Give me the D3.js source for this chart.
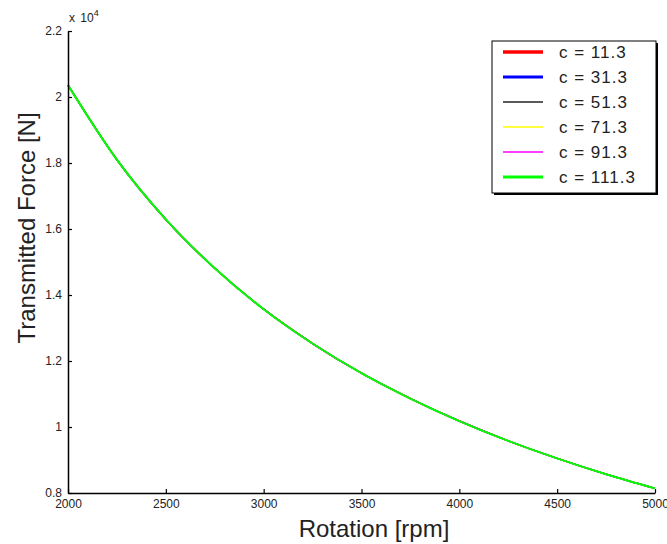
<!DOCTYPE html>
<html>
<head>
<meta charset="utf-8">
<script src="https://cdn.jsdelivr.net/npm/d3@7"></script>
<style>
  body { margin: 0; background: #fff; }
  svg { display: block; font-family: "Liberation Sans", Arial, sans-serif; }
</style>
</head>
<body>
<svg id="chart" width="667" height="544"></svg>
<script>
// rotation speed [rpm] and transmitted force [x 10^4 N]
const rotation = [2000, 2250, 2500, 2750, 3000, 3250, 3500, 3750, 4000, 4250, 4500, 4750, 5000]
const force = [2.036, 1.81, 1.629, 1.481, 1.357, 1.253, 1.163, 1.086, 1.018, 0.958, 0.905, 0.857, 0.814]

// damping coefficients (all curves coincide at this scale)
const dampings = ["c = 11.3", "c = 31.3", "c = 51.3", "c = 71.3", "c = 91.3", "c = 111.3"]
const colors = ["#ff0000", "#0000ff", "#222222", "#ffff00", "#ff00ff", "#00ff00"]
const widths = [3.5, 3, 1.5, 1.5, 1.5, 3]

const xTicks = [2000, 2500, 3000, 3500, 4000, 4500, 5000]
const yTicks = [0.8, 1, 1.2, 1.4, 1.6, 1.8, 2, 2.2]

var svg = d3.select("#chart")
svg.append("rect").attr("width", 667).attr("height", 544).attr("fill", "#fff")

const x = d3.scaleLinear().domain([2000, 5000]).range([68, 655])
const y = d3.scaleLinear().domain([0.8, 2.2]).range([493, 31])

// series, drawn so the last one ends up on top
const line = d3.line()
  .x((d, i) => x(rotation[i]))
  .y(d => y(d))
  .curve(d3.curveMonotoneX)

dampings.forEach(function (name, k) {
  svg.append("path")
    .datum(force)
    .attr("fill", "none")
    .attr("stroke", colors[k])
    .attr("stroke-width", k == dampings.length - 1 ? 2 : 1.5)
    .attr("d", line)
})

// axes
var xAxis = d3.axisBottom(x).tickValues(xTicks).tickFormat(d3.format("d"))
  .tickSizeInner(-4).tickSizeOuter(0).tickPadding(6)
var yAxis = d3.axisLeft(y).tickValues(yTicks).tickFormat(d => d3.format("~g")(d))
  .tickSizeInner(-4).tickSizeOuter(0).tickPadding(6)

var gx = svg.append("g").attr("transform", "translate(0," + 493 + ")").call(xAxis)
var gy = svg.append("g").attr("transform", "translate(" + 68 + ",0)").call(yAxis)

;[gx, gy].forEach(function (g) {
  g.select(".domain").attr("stroke", "#000").attr("stroke-width", 1.5)
  g.selectAll(".tick line").attr("stroke", "#000").attr("stroke-width", 1.2)
  g.selectAll(".tick text").attr("fill", "#222").style("font-size", "12px")
    .style("font-family", "'Liberation Sans', Arial, sans-serif")
})

// exponent marker
var expo = svg.append("text").attr("x", 69).attr("y", 22).attr("fill", "#222")
  .style("font-size", "12px")
expo.append("tspan").text("x ")
expo.append("tspan").attr("dx", 2).text("10")
expo.append("tspan").attr("dy", -6).style("font-size", "9px").text("4")

// axis titles
svg.append("text")
  .attr("x", 374).attr("y", 537)
  .attr("text-anchor", "middle")
  .attr("fill", "#222")
  .style("font-size", "24px")
  .text("Rotation [rpm]")

svg.append("text")
  .attr("transform", "translate(35,228) rotate(-90)")
  .attr("text-anchor", "middle")
  .attr("fill", "#222")
  .style("font-size", "24px")
  .text("Transmitted Force [N]")

// legend
var lg = svg.append("g")
lg.append("rect").attr("x", 494).attr("y", 43).attr("width", 164).attr("height", 152).attr("fill", "#000")
lg.append("rect").attr("x", 492).attr("y", 41).attr("width", 164).attr("height", 152)
  .attr("fill", "#fff").attr("stroke", "#000").attr("stroke-width", 1)

var rowY = d3.scalePoint().domain(dampings).range([52, 177])
dampings.forEach(function (name, k) {
  lg.append("line")
    .attr("x1", 503).attr("x2", 543)
    .attr("y1", rowY(name)).attr("y2", rowY(name))
    .attr("stroke", colors[k]).attr("stroke-width", widths[k])
  lg.append("text")
    .attr("x", 559).attr("y", rowY(name))
    .attr("dy", "0.36em")
    .attr("fill", "#222")
    .style("font-size", "17px")
    .style("letter-spacing", "1px")
    .text(name)
})
</script>
</body>
</html>
